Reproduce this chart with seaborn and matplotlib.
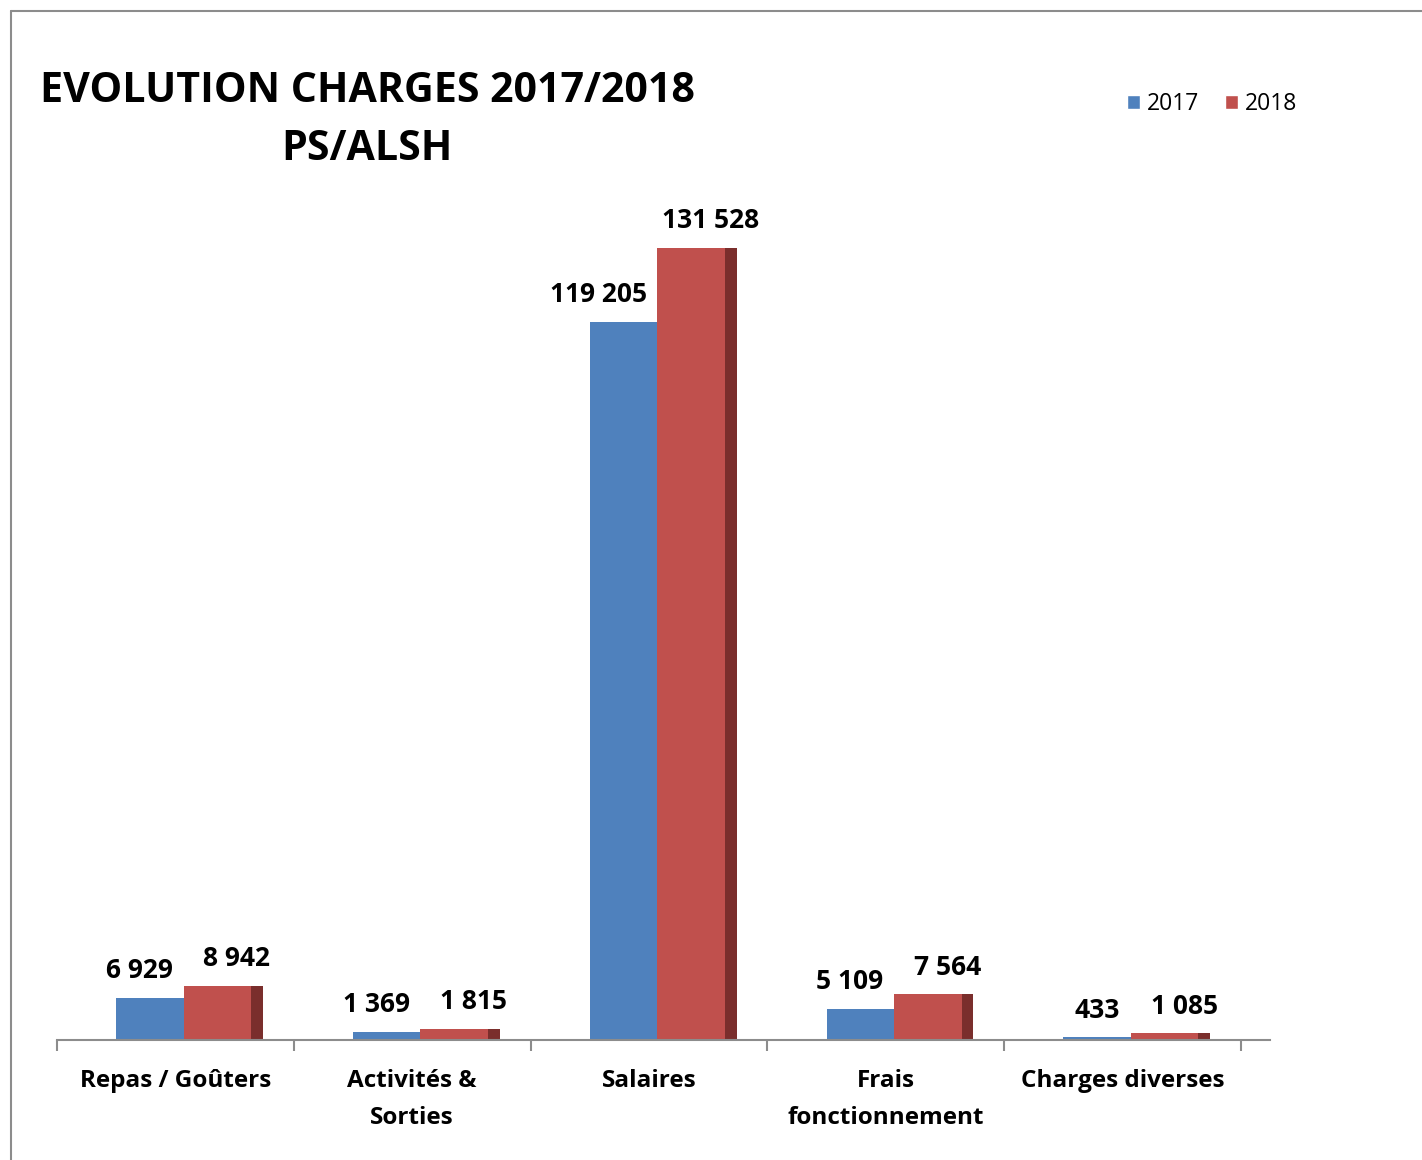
import pandas as pd
import seaborn as sns
import matplotlib.pyplot as plt
from matplotlib.lines import Line2D
from matplotlib.patches import Patch

categories = ['Repas / Goûters', 'Activités &\nSorties', 'Salaires', 'Frais\nfonctionnement', 'Charges diverses']
years = ['2017', '2018']
values_2017 = [6929, 1369, 119205, 5109, 433]
values_2018 = [8942, 1815, 131528, 7564, 1085]

blue = '#4F81BD'
red = '#C0504D'
dark_red = '#7A2E2C'

df = pd.DataFrame({
    'categorie': categories * 2,
    'annee': [years[0]] * len(categories) + [years[1]] * len(categories),
    'montant': values_2017 + values_2018,
})

sns.set_style('white')
plt.rcParams['font.family'] = ['Open Sans', 'DejaVu Sans']
plt.rcParams['text.color'] = 'black'
plt.rcParams['xtick.color'] = 'black'

W, H = 1422, 1160
fig = plt.figure(figsize=(W / 100, H / 100), dpi=100)
ax = fig.add_axes([57 / W, (H - 1040) / H, (1270 - 57) / W, 840 / H])

sns.barplot(data=df, x='categorie', y='montant', hue='annee', palette=[blue, red],
            width=0.57, dodge=True, saturation=1, legend=False, ax=ax)

fmt = lambda v: f'{v:,}'.replace(',', ' ')

# shift the bars to the right, like the 3D chart, and add the dark side of the red bars
bar_groups = list(ax.containers)
for k, cont in enumerate(bar_groups):
    for i, p in enumerate(cont.patches):
        p.set_x(p.get_x() + 0.035)
        p.set_edgecolor('none')
        v = p.get_height()
        if k == 0:
            ax.annotate(fmt(int(v)), (i - 0.01, v), xytext=(0, 10), textcoords='offset points',
                        ha='right', va='bottom', fontsize=19, fontweight='bold')
        else:
            right = p.get_x() + p.get_width()
            ax.bar(right, v, width=0.05, align='edge', color=dark_red, linewidth=0)
            ax.annotate(fmt(int(v)), (i + 0.26, v), xytext=(0, 10), textcoords='offset points',
                        ha='center', va='bottom', fontsize=19, fontweight='bold')

ax.set_xlim(-0.5, 4.5 + 29 / 237)
ax.set_ylim(0, max(values_2018) * 840 / 792)
ax.set_xlabel('')
ax.set_ylabel('')
ax.set_yticks([])
ax.set_xticks(range(len(categories)))
ax.set_xticklabels(categories, fontsize=17.5, fontweight='bold', linespacing=1.7)
ax.tick_params(axis='x', which='major', bottom=False, length=0, pad=21)
ax.set_xticks([x - 0.5 for x in range(len(categories) + 1)], minor=True)
ax.tick_params(axis='x', which='minor', bottom=True, length=8, width=1.5, color='#8C8C8C', direction='out')
for s in ['top', 'right', 'left']:
    ax.spines[s].set_visible(False)
ax.spines['bottom'].set_color('#8C8C8C')
ax.spines['bottom'].set_linewidth(1.5)

fig.text(367 / W, 1 - 91 / H, 'EVOLUTION CHARGES 2017/2018', ha='center', va='center',
         fontsize=29.6, fontweight='bold')
fig.text(367 / W, 1 - 150 / H, 'PS/ALSH', ha='center', va='center',
         fontsize=29.6, fontweight='bold')

handles = [Patch(facecolor=blue), Patch(facecolor=red)]
fig.legend(handles, years, loc='center left', bbox_to_anchor=(1106 / W, 1 - 104 / H), ncol=2,
           frameon=False, fontsize=16.5, handlelength=0.6, handleheight=0.6,
           handletextpad=0.3, columnspacing=1.1)

# outer chart border (top and left only visible)
fig.add_artist(Line2D([11 / W, 1], [1 - 11 / H, 1 - 11 / H], color='#8C8C8C', lw=1.5))
fig.add_artist(Line2D([11 / W, 11 / W], [0, 1 - 11 / H], color='#8C8C8C', lw=1.5))

fig.savefig('out.png', dpi=100)
